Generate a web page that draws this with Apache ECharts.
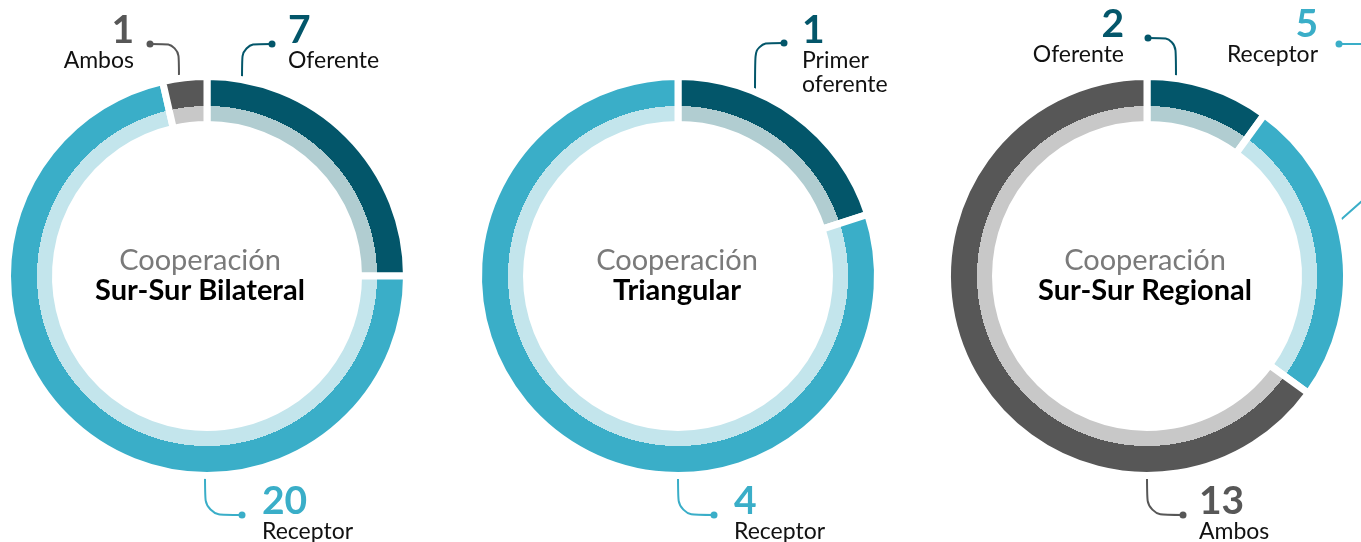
<!DOCTYPE html>
<html>
<head>
<meta charset="utf-8">
<script src="https://cdn.jsdelivr.net/npm/echarts@6/dist/echarts.min.js"></script>
<style>
html, body { margin: 0; padding: 0; background: #fff; }
#main { width: 1361px; height: 542px; }
</style>
</head>
<body>
<div id="main"></div>
<script>
// datos de cada modalidad
const bilateralCats = ['Oferente', 'Receptor', 'Ambos']
const bilateralValues = [7, 20, 1]
const triangularCats = ['Primer oferente', 'Receptor']
const triangularValues = [1, 4]
const regionalCats = ['Oferente', 'Receptor', 'Ambos']
const regionalValues = [2, 5, 13]
const titleTop = 'Cooperación'
const titleNames = ['Sur-Sur Bilateral', 'Triangular', 'Sur-Sur Regional']

// colores: [anillo exterior, anillo interior]
const palette = {
  'Oferente': ['#03566A', '#B1CDD1'],
  'Primer oferente': ['#03566A', '#B1CDD1'],
  'Receptor': ['#3AAEC8', '#C3E5EC'],
  'Ambos': ['#575757', '#C8C8C8']
}

const R_OUT = 196
const R_MID = 170
const R_IN = 155
const GAP = 7

// posicion de las etiquetas (anclaje en el anillo, punto, texto)
const donuts = [
  {
    cats: bilateralCats, values: bilateralValues, center: [207, 276], textX: 200,
    marks: [
      { ax: 35, dotX: 65, dotY: 44, gap: 16, numBottom: 42 },
      { ax: -2, dotX: 35, dotY: 515, gap: 20, numBottom: 513, bottom: true },
      { ax: -28, dotX: -57, dotY: 44, gap: -16, numBottom: 42 }
    ]
  },
  {
    cats: triangularCats, values: triangularValues, center: [678, 276], textX: 677,
    marks: [
      { ax: 77, dotX: 106, dotY: 43, gap: 18, numBottom: 42 },
      { ax: 0, dotX: 36, dotY: 515, gap: 20, numBottom: 513, bottom: true }
    ]
  },
  {
    cats: regionalCats, values: regionalValues, center: [1147, 276], textX: 1145,
    marks: [
      { ax: 29, dotX: 1, dotY: 38, gap: -24, numBottom: 36 },
      { ax: 189, dotX: 192, dotY: 44, gap: -21, numBottom: 36, via: [[225, -84], [225, -232]] },
      { ax: 0, dotX: 36, dotY: 515, gap: 16, numBottom: 513, bottom: true }
    ]
  }
]

function ringColor (center, c) {
  const cut = R_MID / R_OUT
  return {
    type: 'radial',
    x: center[0],
    y: center[1],
    r: R_OUT,
    global: true,
    colorStops: [
      { offset: 0, color: c[1] },
      { offset: cut, color: c[1] },
      { offset: cut, color: c[0] },
      { offset: 1, color: c[0] }
    ]
  }
}

function layoutLabel (si, params) {
  const d = donuts[si]
  const m = d.marks[params.dataIndex]
  const cx = d.center[0]
  const cy = d.center[1]
  const ay = Math.sqrt(R_OUT * R_OUT - m.ax * m.ax) * (m.bottom ? 1 : -1)
  const pts = [[cx + m.ax, cy + ay]]
  if (m.via) {
    m.via.forEach(p => pts.push([cx + p[0], cy + p[1]]))
  } else {
    pts.push([cx + m.ax, m.dotY])
  }
  pts.push([cx + m.dotX, m.dotY])
  return {
    x: cx + m.dotX + m.gap,
    y: m.numBottom - 31,
    align: m.gap > 0 ? 'left' : 'right',
    verticalAlign: 'top',
    labelLinePoints: pts
  }
}

const chart = echarts.init(document.getElementById('main'))

const option = {
  animation: false,
  title: donuts.map((d, i) => ({
    text: titleTop,
    subtext: titleNames[i],
    left: d.textX - 5,
    top: 241,
    textAlign: 'center',
    itemGap: 0,
    textStyle: { fontFamily: 'Lato', fontSize: 29, fontWeight: 'normal', color: '#7a7a7a', lineHeight: 30 },
    subtextStyle: { fontFamily: 'Lato', fontSize: 29, fontWeight: 'bold', color: '#000', lineHeight: 30 }
  })),
  graphic: donuts.flatMap(d => d.marks.map((m, k) => ({
    type: 'circle',
    silent: true,
    shape: { cx: d.center[0] + m.dotX, cy: m.dotY, r: 3.5 },
    style: { fill: palette[d.cats[k]][0] }
  }))),
  series: donuts.map((d, i) => ({
    type: 'pie',
    center: d.center,
    radius: [R_IN - GAP / 2, R_OUT + GAP / 2],
    startAngle: 90,
    clockwise: true,
    silent: true,
    avoidLabelOverlap: false,
    itemStyle: { borderColor: '#fff', borderWidth: GAP },
    label: {
      show: true,
      position: 'outside',
      width: 200,
      formatter: p => '{n|' + p.value + '}\n' + p.name.split(' ').map(w => '{t|' + w + '}').join('\n')
    },
    labelLine: { show: true, smooth: 0.3, lineStyle: { width: 2 } },
    labelLayout: params => layoutLabel(i, params),
    data: d.cats.map((c, k) => {
      const side = d.marks[k].gap > 0 ? 'left' : 'right'
      return {
        name: c,
        value: d.values[k],
        itemStyle: { color: ringColor(d.center, palette[c]) },
        label: {
          rich: {
            n: { fontFamily: 'Lato', fontSize: 39, fontWeight: 'bold', color: palette[c][0], lineHeight: 38, align: side },
            t: { fontFamily: 'Lato', fontSize: 23, color: '#111', lineHeight: 24, align: side }
          }
        },
        labelLine: {
          smooth: d.marks[k].via ? 0 : 0.3,
          lineStyle: { color: palette[c][0], width: 2 }
        }
      }
    })
  }))
}

chart.setOption(option)
</script>
</body>
</html>
